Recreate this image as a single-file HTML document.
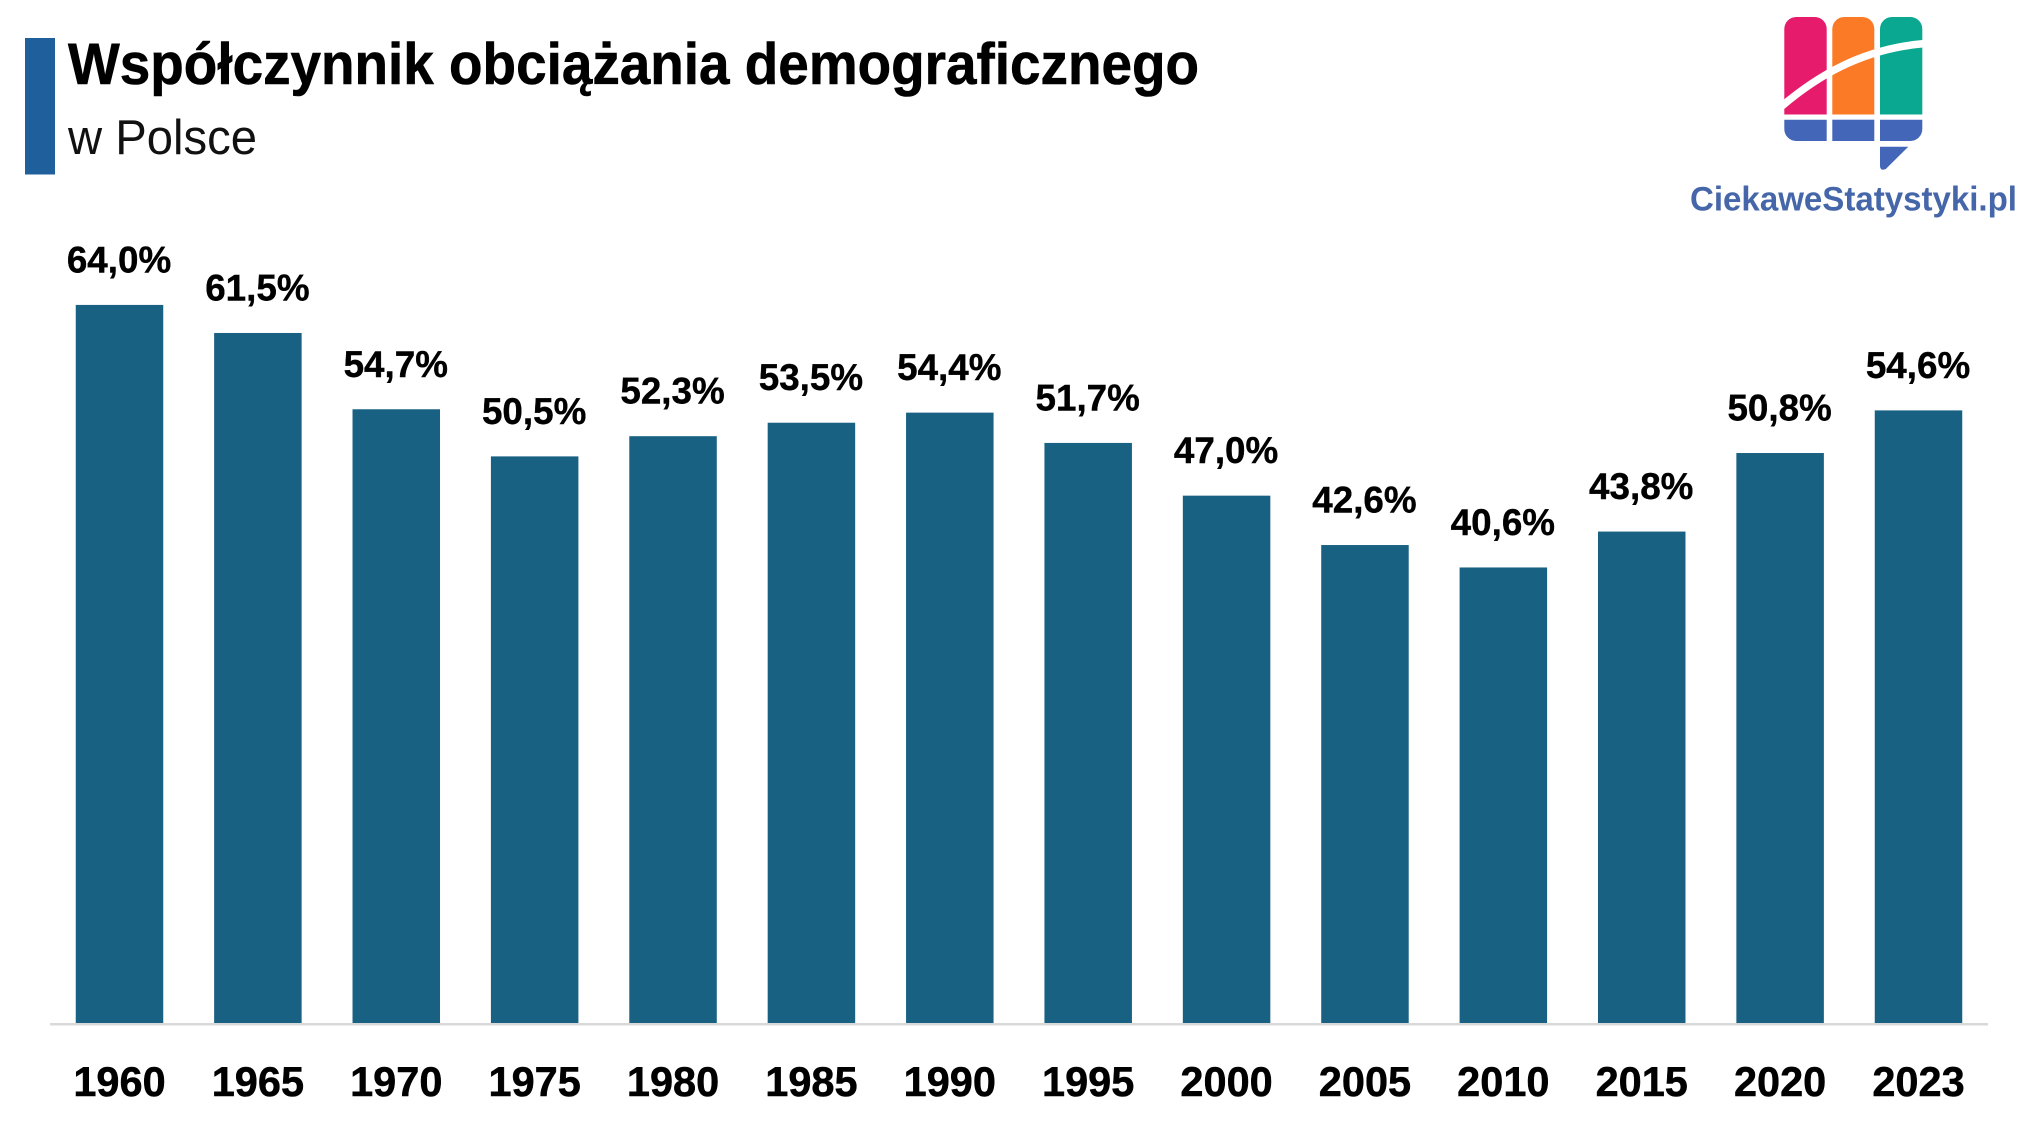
<!DOCTYPE html>
<html lang="pl">
<head>
<meta charset="utf-8">
<title>Współczynnik obciążania demograficznego w Polsce</title>
<style>
  html, body { margin: 0; padding: 0; background: #ffffff; }
  svg { display: block; }
  text { font-family: "Liberation Sans", "DejaVu Sans", sans-serif; }
</style>
</head>
<body>
<svg id="chart" xmlns="http://www.w3.org/2000/svg" width="2038" height="1139" viewBox="0 0 2038 1139">
  <rect x="0" y="0" width="2038" height="1139" fill="#ffffff"/>
  <rect x="25" y="38" width="30" height="136.500" fill="#1f5f9b"/>
  <text x="68" y="84" font-size="58" font-weight="700" fill="#000000" stroke="#000000" stroke-width="0.6" textLength="1131" lengthAdjust="spacingAndGlyphs">Współczynnik obciążania demograficznego</text>
  <text x="68" y="154" font-size="49" fill="#111111" textLength="189" lengthAdjust="spacingAndGlyphs">w Polsce</text>

  <g>
    <path d="M1784.300 114.500V29a12 12 0 0 1 12-12h18.400a12 12 0 0 1 12 12v85.500z" fill="#e61b6b"/>
    <path d="M1832.300 114.500V29a12 12 0 0 1 12-12h18a12 12 0 0 1 12 12v85.500z" fill="#fb7a26"/>
    <path d="M1880 114.500V29a12 12 0 0 1 12-12h18.300a12 12 0 0 1 12 12v85.500z" fill="#0aa890"/>
    <path d="M1782 106C1815 78 1860 49 1925 43.500" fill="none" stroke="#ffffff" stroke-width="7.500"/>
    <path d="M1784.300 119.700h42.400v21.300h-30.400a12 12 0 0 1-12-12z" fill="#4366b8"/>
    <rect x="1832.300" y="119.700" width="42" height="21.300" fill="#4366b8"/>
    <path d="M1880 119.700h42.300v9.300a12 12 0 0 1-12 12h-30.300z" fill="#4366b8"/>
    <path d="M1880 146.700h28.300l-22.500 22.300q-5.800 2.500-5.800-3.500z" fill="#4366b8"/>
    <text x="1690" y="210.500" font-size="34" font-weight="700" fill="#4566a8" textLength="327" lengthAdjust="spacingAndGlyphs">CiekaweStatystyki.pl</text>
  </g>

  <g id="bars"></g>
  <g id="value-labels"></g>
  <line x1="50" y1="1024.300" x2="1988" y2="1024.300" stroke="#d9d9d9" stroke-width="2.500"/>
  <g id="x-ticks"></g>
</svg>
<script>
const categories = ["1960","1965","1970","1975","1980","1985","1990","1995","2000","2005","2010","2015","2020","2023"];
const values = [64.0,61.5,54.7,50.5,52.3,53.5,54.4,51.7,47.0,42.6,40.6,43.8,50.8,54.6];
const valueLabels = ["64,0%","61,5%","54,7%","50,5%","52,3%","53,5%","54,4%","51,7%","47,0%","42,6%","40,6%","43,8%","50,8%","54,6%"];

const SVG_NS = "http://www.w3.org/2000/svg";
const baseY = 1023;
const firstCenter = 119.5;
const lastCenter = 1918.5;
const barWidth = 87.5;
const pxPerUnit = 11.22;

function xScale(i) {
  return firstCenter + i * (lastCenter - firstCenter) / (categories.length - 1);
}
function yScale(v) {
  return baseY - v * pxPerUnit;
}

const barsGroup = document.getElementById("bars");
const labelsGroup = document.getElementById("value-labels");
const ticksGroup = document.getElementById("x-ticks");

categories.forEach(function (cat, i) {
  const cx = xScale(i);
  const top = yScale(values[i]);

  const bar = document.createElementNS(SVG_NS, "rect");
  bar.setAttribute("x", cx - barWidth / 2);
  bar.setAttribute("y", top);
  bar.setAttribute("width", barWidth);
  bar.setAttribute("height", baseY - top);
  bar.setAttribute("fill", "#186183");
  
  
  barsGroup.appendChild(bar);

  const label = document.createElementNS(SVG_NS, "text");
  label.setAttribute("x", cx - 0.5);
  label.setAttribute("y", top - 32.5);
  label.setAttribute("text-anchor", "middle");
  label.setAttribute("font-size", "36.800");
  label.setAttribute("font-weight", "700");
  label.setAttribute("fill", "#000000");
  label.setAttribute("stroke", "#000000");
  label.setAttribute("stroke-width", "0.4");
  
  
  label.textContent = valueLabels[i];
  labelsGroup.appendChild(label);

  const tick = document.createElementNS(SVG_NS, "text");
  tick.setAttribute("x", cx);
  tick.setAttribute("y", 1096);
  tick.setAttribute("text-anchor", "middle");
  tick.setAttribute("font-size", "41.500");
  tick.setAttribute("font-weight", "700");
  tick.setAttribute("fill", "#000000");
  tick.setAttribute("stroke", "#000000");
  tick.setAttribute("stroke-width", "0.5");
  
  
  tick.textContent = cat;
  ticksGroup.appendChild(tick);
});
</script>
</body>
</html>
